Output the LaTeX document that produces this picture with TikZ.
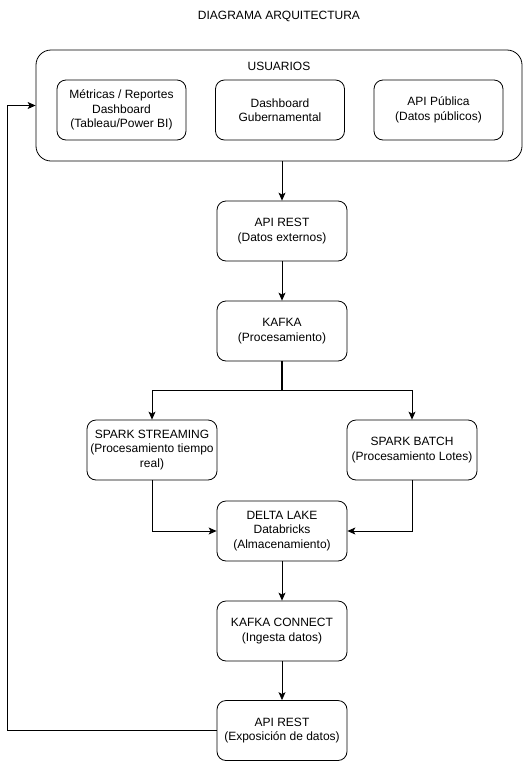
\documentclass[tikz,border=0pt]{standalone}
\usepackage{fontspec}
\setmainfont{Liberation Sans}
\usetikzlibrary{arrows.meta}
\begin{document}
\begin{tikzpicture}[x=1pt,y=-1pt,
  box/.style={draw, line width=0.8pt, rounded corners=9pt, minimum width=130pt, minimum height=60pt, align=center, inner sep=2pt, font=\fontsize{12}{14.4}\selectfont},
  outer/.style={draw, line width=0.8pt, rounded corners=15pt, minimum width=486pt, minimum height=111pt},
  lbl/.style={font=\fontsize{12}{14.4}\selectfont, inner sep=0pt},
  arr/.style={line width=0.8pt, -{Stealth[length=8pt,width=7pt,inset=2pt]}},
  ln/.style={line width=0.8pt}]
\useasboundingbox (0,0) rectangle (527,761);
\node[lbl] (title) at (279,16) {DIAGRAMA ARQUITECTURA};
\node[outer] (usuarios) at (279,105.5) {};
\node[lbl] (ulabel) at (279,66) {USUARIOS};
\node[box, minimum width=129pt] (m1) at (121.5,110) {Métricas / Reportes\\Dashboard\\(Tableau/Power BI)};
\node[box, minimum width=129pt] (m2) at (280,110) {Dashboard\\Gubernamental};
\node[box, minimum width=129pt] (m3) at (438.5,110) {API Pública\\(Datos públicos)};
\node[box] (api1) at (282,231) {API REST\\(Datos externos)};
\node[box] (kafka) at (282,331) {KAFKA\\(Procesamiento)};
\node[box] (stream) at (152,450) {SPARK STREAMING\\(Procesamiento tiempo\\real)};
\node[box] (batch) at (412,450) {SPARK BATCH\\(Procesamiento Lotes)};
\node[box] (delta) at (282,531) {DELTA LAKE\\Databricks\\(Almacenamiento)};
\node[box] (kconn) at (282,631) {KAFKA CONNECT\\(Ingesta datos)};
\node[box] (api2) at (282,730.5) {API REST\\(Exposición de datos)};
\coordinate (fork) at (282,390);
\coordinate (loopb) at (7,730.5);
\coordinate (loopt) at (7,105.5);
\draw[arr] (usuarios.south -| api1.north) -- (api1.north);
\draw[arr] (api1) -- (kafka);
\draw[line width=1.6pt] (kafka.south) -- (fork);
\draw[arr] (fork) -| (stream.north);
\draw[arr] (fork) -| (batch.north);
\draw[arr] (stream.south) |- (delta.west);
\draw[arr] (batch.south) |- (delta.east);
\draw[arr] (delta) -- (kconn);
\draw[arr] (kconn) -- (api2);
\draw[arr] (api2.west) -- (loopb) -- (loopt) -- (usuarios.west);
\end{tikzpicture}
\end{document}
